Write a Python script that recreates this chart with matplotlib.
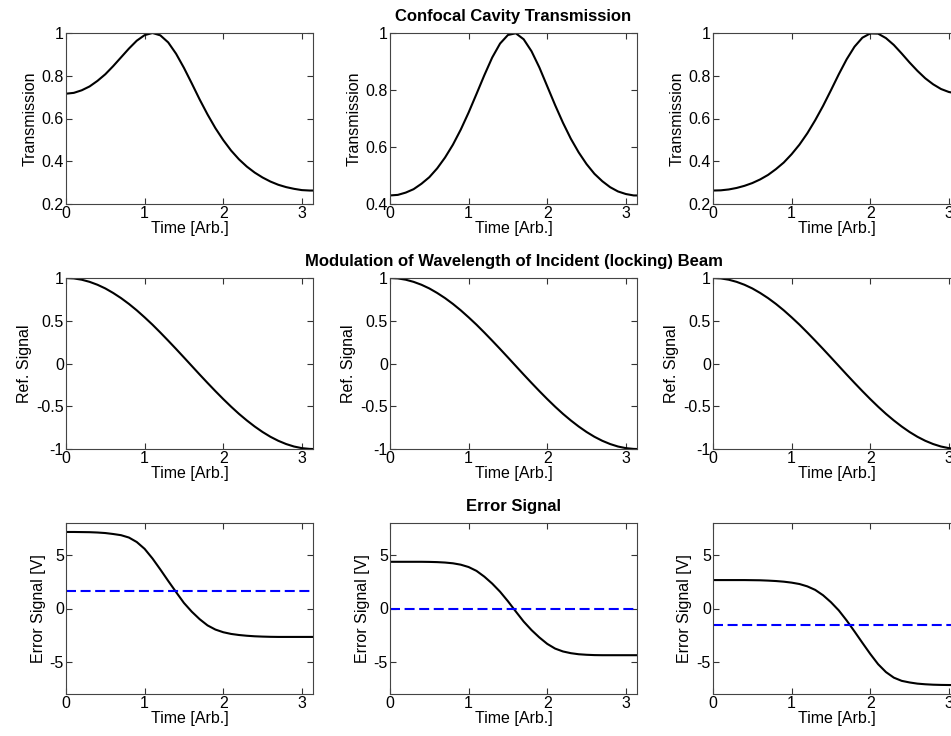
import numpy as np
import matplotlib
matplotlib.use('Agg')
import matplotlib.pyplot as plt

plt.rcParams['font.family'] = ['Liberation Sans', 'DejaVu Sans']

# time samples (0 .. pi)
t = [0.0, 0.1, 0.2, 0.3, 0.4, 0.5, 0.6, 0.7, 0.8, 0.9, 1.0, 1.1, 1.2, 1.3, 1.4, 1.5,
     1.6, 1.7, 1.8, 1.9, 2.0, 2.1, 2.2, 2.3, 2.4, 2.5, 2.6, 2.7, 2.8, 2.9, 3.0, 3.1, 3.1416]

# cavity transmission, one list per column
trans1 = [0.716, 0.720, 0.732, 0.750, 0.776, 0.807, 0.845, 0.886, 0.927, 0.964, 0.990,
          1.000, 0.989, 0.956, 0.903, 0.837, 0.764, 0.689, 0.619, 0.555, 0.499, 0.450,
          0.409, 0.375, 0.347, 0.324, 0.305, 0.290, 0.279, 0.271, 0.265, 0.263, 0.263]
trans2 = [0.430, 0.432, 0.440, 0.452, 0.471, 0.494, 0.525, 0.563, 0.608, 0.661, 0.721,
          0.786, 0.852, 0.914, 0.963, 0.993, 0.999, 0.978, 0.936, 0.879, 0.813, 0.747,
          0.685, 0.629, 0.581, 0.540, 0.506, 0.480, 0.459, 0.444, 0.435, 0.430, 0.430]
trans3 = [0.263, 0.264, 0.268, 0.275, 0.285, 0.298, 0.315, 0.336, 0.363, 0.394, 0.433,
          0.478, 0.531, 0.592, 0.659, 0.732, 0.807, 0.877, 0.936, 0.978, 0.998, 0.997,
          0.976, 0.944, 0.904, 0.862, 0.823, 0.788, 0.760, 0.738, 0.724, 0.717, 0.716]

# reference (modulation) signal, same in every column
ref = [1.000, 0.995, 0.980, 0.955, 0.921, 0.878, 0.825, 0.765, 0.697, 0.622, 0.540,
       0.454, 0.362, 0.267, 0.170, 0.071, -0.029, -0.129, -0.227, -0.323, -0.416, -0.505,
       -0.589, -0.666, -0.737, -0.801, -0.857, -0.904, -0.942, -0.971, -0.990, -0.999, -1.000]

# error signal, one list per column
err1 = [7.16, 7.16, 7.15, 7.14, 7.11, 7.06, 6.97, 6.86, 6.64, 6.22, 5.58, 4.68, 3.65,
        2.58, 1.54, 0.52, -0.30, -1.00, -1.58, -1.97, -2.22, -2.38, -2.48, -2.55, -2.60,
        -2.63, -2.65, -2.66, -2.66, -2.66, -2.66, -2.66, -2.66]
err2 = [4.37, 4.37, 4.37, 4.37, 4.37, 4.36, 4.34, 4.30, 4.23, 4.10, 3.88, 3.52, 2.98,
        2.33, 1.57, 0.68, -0.28, -1.22, -2.02, -2.71, -3.31, -3.75, -4.02, -4.18, -4.28,
        -4.33, -4.36, -4.37, -4.37, -4.37, -4.37, -4.37, -4.37]
err3 = [2.66, 2.66, 2.66, 2.66, 2.66, 2.65, 2.64, 2.61, 2.57, 2.51, 2.42, 2.29, 2.07,
        1.74, 1.24, 0.59, -0.18, -1.12, -2.15, -3.21, -4.25, -5.21, -5.95, -6.47, -6.77,
        -6.92, -7.03, -7.09, -7.13, -7.15, -7.16, -7.16, -7.16]
lock_level = [1.6, 0.0, -1.55]

row_titles = ['Confocal Cavity Transmission',
              'Modulation of Wavelength of Incident (locking) Beam',
              'Error Signal']
y_labels = ['Transmission', 'Ref. Signal', 'Error Signal [V]']
x_ticks = [0, 1, 2, 3]
trans_lims = [(0.2, 1.0), (0.4, 1.0), (0.2, 1.0)]
trans_ticks = [[0.2, 0.4, 0.6, 0.8, 1.0], [0.4, 0.6, 0.8, 1.0], [0.2, 0.4, 0.6, 0.8, 1.0]]
trans_ticklabels = [['0.2', '0.4', '0.6', '0.8', '1'], ['0.4', '0.6', '0.8', '1'],
                    ['0.2', '0.4', '0.6', '0.8', '1']]
ref_ticks = [-1, -0.5, 0, 0.5, 1]
ref_ticklabels = ['-1', '-0.5', '0', '0.5', '1']
err_ticks = [-5, 0, 5]
err_ticklabels = ['-5', '0', '5']

W, H = 951, 736
fig = plt.figure(figsize=(W / 100, H / 100), dpi=100)

col_left = [66, 390, 713]
row_top = [33, 278, 523]
aw, ah = 247, 171

trans = [trans1, trans2, trans3]
errs = [err1, err2, err3]

for r in range(3):
    for c in range(3):
        ax = fig.add_axes([col_left[c] / W, (H - row_top[r] - ah) / H, aw / W, ah / H])
        if r == 0:
            ax.plot(t, trans[c], color='k', lw=1.5)
            ax.set_ylim(*trans_lims[c])
            ax.set_yticks(trans_ticks[c])
            ax.set_yticklabels(trans_ticklabels[c])
        elif r == 1:
            ax.plot(t, ref, color='k', lw=1.5)
            ax.set_ylim(-1, 1)
            ax.set_yticks(ref_ticks)
            ax.set_yticklabels(ref_ticklabels)
        else:
            ax.plot(t, errs[c], color='k', lw=1.5)
            ax.axhline(lock_level[c], color='#0000ff', lw=1.5, linestyle=(0, (4.8, 2.2)))
            ax.set_ylim(-8, 8)
            ax.set_yticks(err_ticks)
            ax.set_yticklabels(err_ticklabels)
        ax.set_xlim(0, np.pi)
        ax.set_xticks(x_ticks)
        ax.set_xticklabels([str(v) for v in x_ticks])
        ax.tick_params(direction='in', length=4, width=0.8, top=True, right=True,
                       labelsize=11.5, pad=1.5, color='#333333')
        for s in ax.spines.values():
            s.set_color('#444444')
            s.set_linewidth(0.8)
        ax.set_xlabel('Time [Arb.]', fontsize=11.5, labelpad=0)
        ax.set_ylabel(y_labels[r], fontsize=11.5, labelpad=3)
        if c == 1:
            ax.set_title(row_titles[r], fontsize=12, fontweight='bold', pad=9)

fig.savefig('out.png', dpi=100)
